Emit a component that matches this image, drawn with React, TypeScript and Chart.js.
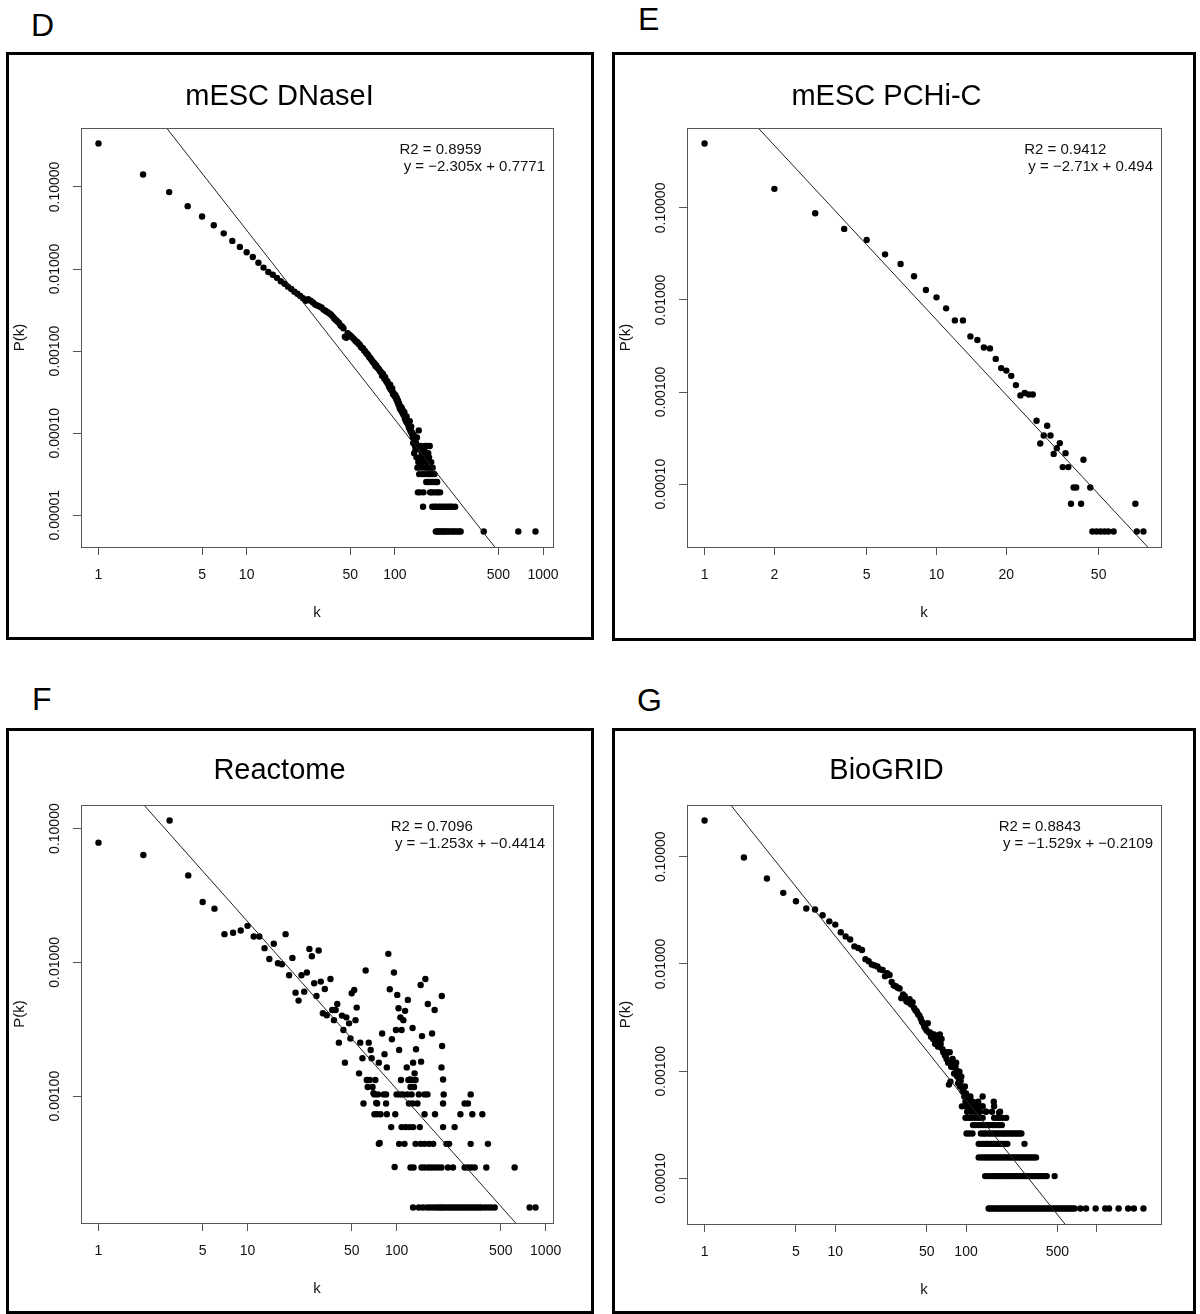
import React, { useEffect, useRef } from "react";
import { Chart, registerables } from "chart.js";

Chart.register(...registerables);

const FONT = '"Liberation Sans", Arial, Helvetica, sans-serif';

// ---------------- Panel D : mESC DNaseI ----------------
const D_K = [
  1, 2, 3, 4, 5, 6, 7, 8, 9, 10,
  11, 12, 13, 14, 15, 16, 17, 18, 19, 20,
  21, 22, 23, 24, 25, 26, 27, 28, 29, 30,
  31, 32, 33, 34, 35, 36, 37, 38, 39, 40,
  41, 42, 43, 44, 45, 46, 47, 48, 49, 50,
  51, 52, 53, 54, 55, 56, 57, 58, 59, 60,
  61, 62, 63, 64, 65, 66, 67, 68, 69, 70,
  71, 72, 73, 74, 75, 76, 77, 78, 79, 80,
  81, 82, 83, 84, 85, 86, 87, 88, 89, 90,
  91, 92, 93, 94, 95, 96, 97, 98, 99, 100,
  101, 102, 103, 104, 105, 106, 107, 108, 109, 110,
  111, 112, 113, 114, 115, 116, 117, 118, 119, 120,
  121, 122, 123, 124, 125, 126, 127, 128, 129, 130,
];
const D_P = [
  0.338, 0.142, 0.0865, 0.0583, 0.0436, 0.0341, 0.0272, 0.022, 0.0186, 0.016,
  0.014, 0.0119, 0.0104, 0.0092, 0.0085, 0.0078, 0.0071, 0.0066, 0.0061, 0.0057,
  0.0053, 0.005, 0.0047, 0.0044, 0.0041, 0.0043, 0.0041, 0.0039, 0.0037, 0.0036,
  0.0035, 0.0034, 0.0032, 0.0031, 0.003, 0.0029, 0.0028, 0.00265, 0.0025, 0.0024,
  0.0023, 0.0022, 0.00205, 0.002, 0.0019, 0.0015, 0.00145, 0.00165, 0.0016, 0.00155,
  0.0015, 0.00145, 0.0014, 0.00135, 0.0013, 0.00128, 0.00122, 0.0012, 0.00112, 0.0011,
  0.00108, 0.00102, 0.001, 0.00095, 0.00092, 0.0009, 0.00085, 0.00083, 0.0008, 0.00077,
  0.00074, 0.00072, 0.0007, 0.00066, 0.00067, 0.00063, 0.00062, 0.0006, 0.00058, 0.00056,
  0.00055, 0.0005, 0.00053, 0.0005, 0.00046, 0.00048, 0.00044, 0.00042, 0.00043, 0.0004,
  0.00038, 0.00036, 0.00039, 0.00034, 0.00033, 0.00035, 0.0003, 0.00031, 0.00029, 0.00028,
  0.00029, 0.00026, 0.00027, 0.00024, 0.00025, 0.00022, 0.00023, 0.0002, 0.00021, 0.00019,
  0.000205, 0.00018, 0.00019, 0.00017, 0.000165, 0.00018, 0.00015, 0.000155, 0.00014, 0.00016,
  0.000135, 0.00013, 0.00014, 0.00012, 0.000115, 0.00014, 0.00011, 0.000105, 0.00012, 0.0001,
];
// tail: rows of equal probability (1, 2, 3 ... nodes)
const D_ROW_P = [
  6.34e-6, 1.27e-5, 1.9e-5, 2.54e-5, 3.17e-5, 3.8e-5, 4.44e-5, 5.07e-5, 5.71e-5,
  6.34e-5, 6.97e-5, 7.61e-5, 8.24e-5, 8.88e-5, 9.51e-5, 1.01e-4, 1.08e-4,
];
const D_ROW_K = [
  [189, 194, 198, 203, 208, 214, 218, 225, 231, 239, 246, 253, 262, 270, 278, 398, 681, 890],
  [155, 179, 186, 191, 199, 205, 212, 220, 228, 236, 243, 255],
  [143, 148, 156, 173, 177, 183, 190, 196, 202],
  [163, 169, 175, 181, 188, 193],
  [146, 154, 159, 167, 171, 178, 185],
  [142, 151, 161, 166, 174, 180],
  [144, 153, 164, 176],
  [140, 149, 157, 170],
  [135, 152, 162, 168],
  [138, 147, 158],
  [137, 150, 160, 165, 172],
  [133, 139],
  [136],
  [132, 141],
  [134],
  [131],
  [145],
];
const D_X_TICKS = [1, 5, 10, 50, 100, 500, 1000];
const D_X_LABELS = ["1", "5", "10", "50", "100", "500", "1000"];
const D_Y_TICKS = [0.1, 0.01, 0.001, 0.0001, 0.00001];
const D_Y_LABELS = ["0.10000", "0.01000", "0.00100", "0.00010", "0.00001"];
const D_R2 = "0.8959";
const D_SLOPE = -2.305;
const D_INTERCEPT = 0.7771;

// ---------------- Panel E : mESC PCHi-C ----------------
const E_K = [
  1, 2, 3, 4, 5, 6, 7, 8, 9, 10,
  11, 12, 13, 14, 15, 16, 17, 18, 19, 20,
  21, 22, 23, 24, 25, 26, 27, 28, 29, 30,
  31, 32, 33, 34, 35, 36, 37, 38, 39, 40,
  42, 43, 46, 47, 49, 51, 53, 55, 58, 72, 73, 78,
];
const E_P = [
  0.5, 0.161, 0.0874, 0.0591, 0.0449, 0.0313, 0.0246, 0.0181, 0.01285, 0.01067,
  0.00811, 0.006, 0.006, 0.00402, 0.00367, 0.00305, 0.00298, 0.00229, 0.00182, 0.00171,
  0.0015, 0.00119, 0.00092, 0.000975, 0.00094, 0.00094, 0.000488, 0.000276, 0.000337, 0.00043,
  0.000337, 0.000213, 0.000246, 0.000279, 0.000153, 0.000217, 0.000153, 0.0000612, 0.0000918, 0.0000918,
  0.0000612, 0.000184, 0.0000918, 0.0000306, 0.0000306, 0.0000306, 0.0000306, 0.0000306, 0.0000306,
  0.0000612, 0.0000306, 0.0000306,
];
const E_ROW_P: number[] = [];
const E_ROW_K: number[][] = [];
const E_X_TICKS = [1, 2, 5, 10, 20, 50];
const E_X_LABELS = ["1", "2", "5", "10", "20", "50"];
const E_Y_TICKS = [0.1, 0.01, 0.001, 0.0001];
const E_Y_LABELS = ["0.10000", "0.01000", "0.00100", "0.00010"];
const E_R2 = "0.9412";
const E_SLOPE = -2.71;
const E_INTERCEPT = 0.494;

// ---------------- Panel F : Reactome ----------------
const F_K = [
  1, 2, 3, 4, 5, 6, 7, 8, 9, 10,
  11, 12, 13, 14, 15, 16, 17, 18, 19, 20,
  21, 22, 23, 24, 25, 26, 27, 28, 29, 30,
  31, 32, 33, 34, 36, 37, 38, 39, 40, 41,
  43, 44, 45, 46, 48, 49, 50, 52, 53, 54,
  56, 57, 59, 62, 65, 66, 67, 68, 70, 72,
  73, 76, 77, 80, 83, 86, 88, 90, 93, 96,
  97, 99, 101, 103, 104, 106, 108, 111, 114, 117,
  119, 123, 128, 129, 132, 135, 145, 146, 148, 156,
  162, 173, 180, 200, 201, 202, 205,
];
const F_P = [
  0.0785, 0.0635, 0.115, 0.0447, 0.0283, 0.0252, 0.01625, 0.01663, 0.0173, 0.01875,
  0.0156, 0.0156, 0.01277, 0.0106, 0.01377, 0.00986, 0.00969, 0.01626, 0.00801, 0.0108,
  0.00594, 0.00518, 0.00801, 0.00604, 0.0084, 0.0126, 0.0111, 0.00698, 0.00561, 0.01227,
  0.00718, 0.00416, 0.00632, 0.00402, 0.00752, 0.0044, 0.0037, 0.0044, 0.00489, 0.00251,
  0.004, 0.00312, 0.00178, 0.00388, 0.0035, 0.0027, 0.00587, 0.00622, 0.0037, 0.00459,
  0.00148, 0.00251, 0.00192, 0.00869, 0.00251, 0.00132, 0.00221, 0.00192, 0.00105, 0.00132,
  0.00089, 0.00178, 0.000447, 0.00294, 0.00206, 0.00164, 0.01158, 0.00629, 0.00266, 0.0084,
  0.000295, 0.00312, 0.00571, 0.00454, 0.00221, 0.00388, 0.00312, 0.0037, 0.00434, 0.00164,
  0.00524, 0.00133, 0.00323, 0.00178, 0.00148, 0.00224, 0.00678, 0.00181, 0.00281, 0.00752,
  0.00489, 0.00294, 0.0044, 0.00164, 0.00561, 0.00237, 0.00133,
];
const F_ROW_P = [1.47e-4, 2.93e-4, 4.4e-4, 5.87e-4, 7.33e-4, 8.8e-4, 1.03e-3, 1.17e-3, 1.32e-3];
const F_ROW_K = [
  [129, 141, 150, 160, 168, 177, 185, 193, 200, 207, 216, 225, 233, 242, 252, 262, 272, 282, 294, 306, 317, 330, 343, 357, 370, 390, 411, 432, 455, 781, 855],
  [124, 130, 147, 154, 163, 171, 180, 190, 200, 221, 239, 286, 301, 317, 334, 400, 619],
  [76, 104, 113, 134, 145, 154, 165, 176, 216, 225, 314, 410],
  [92, 108, 115, 122, 129, 143, 205, 245],
  [71, 74, 78, 86, 98, 154, 181, 268, 322, 376],
  [60, 74, 85, 121, 128, 138, 205, 286, 301],
  [71, 75, 82, 85, 100, 105, 110, 118, 126, 141, 154, 161, 207, 314],
  [64, 69, 124, 131],
  [63, 107, 120, 127, 134],
];
const F_X_TICKS = [1, 5, 10, 50, 100, 500, 1000];
const F_X_LABELS = ["1", "5", "10", "50", "100", "500", "1000"];
const F_Y_TICKS = [0.1, 0.01, 0.001];
const F_Y_LABELS = ["0.10000", "0.01000", "0.00100"];
const F_R2 = "0.7096";
const F_SLOPE = -1.253;
const F_INTERCEPT = -0.4414;

// ---------------- Panel G : BioGRID ----------------
const G_K = [
  1, 2, 3, 4, 5, 6, 7, 8, 9, 10,
  11, 12, 13, 14, 15, 16, 17, 18, 19, 20,
  21, 22, 23, 24, 25, 26, 27, 28, 29, 30,
  31, 32, 33, 34, 35, 36, 37, 38, 39, 40,
  41, 42, 43, 44, 45, 46, 47, 48, 49, 50,
  51, 52, 53, 54, 55, 56, 57, 58, 59, 60,
  61, 62, 63, 64, 65, 66, 67, 68, 69, 70,
  71, 72, 73, 74, 75, 76, 77, 78, 79, 80,
  81, 82, 83, 84, 85, 86, 87, 88, 89, 90,
  91, 92, 93, 94, 95, 96, 97, 98, 99, 100,
  102, 104, 106, 108, 110, 113, 116, 119, 124, 128, 134, 142, 163, 179,
];
const G_P = [
  0.218, 0.0985, 0.0627, 0.0461, 0.0385, 0.0329, 0.0322, 0.0285, 0.025, 0.0233,
  0.0198, 0.0181, 0.0169, 0.0146, 0.0141, 0.0135, 0.0111, 0.0106, 0.0099, 0.0097,
  0.0095, 0.0089, 0.0088, 0.0077, 0.0082, 0.0079, 0.0068, 0.0063, 0.0062, 0.006,
  0.0059, 0.0048, 0.0052, 0.005, 0.0045, 0.0044, 0.0047, 0.0042, 0.0044, 0.0039,
  0.0037, 0.0036, 0.0034, 0.0033, 0.0031, 0.0029, 0.0028, 0.0026, 0.0025, 0.0024,
  0.0028, 0.0023, 0.0023, 0.0021, 0.0022, 0.002, 0.0022, 0.0018, 0.0019, 0.0021,
  0.0017, 0.0017, 0.0022, 0.0018, 0.002, 0.0016, 0.0015, 0.0015, 0.0014, 0.0014,
  0.0013, 0.0015, 0.0012, 0.00075, 0.0015, 0.0008, 0.0011, 0.0012, 0.0013, 0.0011,
  0.00095, 0.00096, 0.0011, 0.0012, 0.0009, 0.001, 0.00077, 0.00085, 0.00099, 0.00072,
  0.00081, 0.00089, 0.00047, 0.00065, 0.00067, 0.00063, 0.00058, 0.00072, 0.00052, 0.00062,
  0.00056, 0.00052, 0.00047, 0.00058, 0.00042, 0.00052, 0.00045, 0.00048, 0.00052, 0.00042, 0.00058, 0.00042, 0.00052, 0.00041,
];
const G_ROW_P = [5.24e-5, 1.05e-4, 1.57e-4, 2.1e-4, 2.62e-4, 3.14e-4, 3.67e-4, 4.19e-4, 4.72e-4];
const G_ROW_K = [
  [149, 153, 159, 165, 172, 176, 183, 189, 196, 203, 210, 218, 226, 234, 242, 251, 260, 269, 279, 289, 299, 310, 321, 333, 345, 357, 370, 383, 397, 411, 426, 441, 457, 474, 491, 508, 526, 545, 565, 585, 606, 628, 651, 677, 749, 828, 980, 1161, 1242, 1469, 1738, 1923, 2275],
  [140, 147, 154, 160, 165, 171, 177, 184, 190, 197, 204, 211, 219, 227, 235, 243, 252, 261, 271, 281, 291, 301, 312, 323, 335, 347, 359, 372, 385, 399, 414, 476],
  [125, 131, 136, 142, 147, 153, 158, 164, 169, 176, 182, 188, 195, 202, 209, 216, 224, 232, 241, 249, 258, 267, 277, 287, 298, 308, 319, 331, 343],
  [125, 130, 136, 141, 145, 151, 156, 162, 167, 173, 180, 186, 193, 200, 207, 280],
  [101, 106, 112, 130, 136, 141, 148, 154, 160, 166, 172, 178, 185, 192, 199, 206, 214, 222, 230, 238, 247, 256, 265],
  [113, 118, 124, 129, 135, 141, 147, 153, 160, 166, 173, 180, 188],
  [99, 104, 109, 115, 121, 127, 134, 164, 173, 181, 191, 203],
  [102, 110, 118, 126, 142, 158, 182],
  [100, 107, 115, 124, 134, 164],
];
const G_X_TICKS = [1, 5, 10, 50, 100, 500, 1000];
const G_X_LABELS = ["1", "5", "10", "50", "100", "500", ""];
const G_Y_TICKS = [0.1, 0.01, 0.001, 0.0001];
const G_Y_LABELS = ["0.10000", "0.01000", "0.00100", "0.00010"];
const G_R2 = "0.8843";
const G_SLOPE = -1.529;
const G_INTERCEPT = -0.2109;

// ---------------- layout (page pixels) ----------------
type Panel = {
  letter: string;
  title: string;
  k: number[];
  p: number[];
  rowP: number[];
  rowK: number[][];
  xTicks: number[];
  xLabels: string[];
  yTicks: number[];
  yLabels: string[];
  r2: string;
  slope: number;
  intercept: number;
  box: { x: number; y: number; w: number; h: number };
  plot: { l: number; t: number; r: number; b: number };
  titleY: number;
  letterPos: { x: number; y: number };
};

const PANELS: Panel[] = [
  {
    letter: "D", title: "mESC DNaseI", k: D_K, p: D_P, rowP: D_ROW_P, rowK: D_ROW_K,
    xTicks: D_X_TICKS, xLabels: D_X_LABELS, yTicks: D_Y_TICKS, yLabels: D_Y_LABELS,
    r2: D_R2, slope: D_SLOPE, intercept: D_INTERCEPT,
    box: { x: 6, y: 52, w: 588, h: 588 }, plot: { l: 81, t: 128, r: 553, b: 547 },
    titleY: 97, letterPos: { x: 31, y: 9 },
  },
  {
    letter: "E", title: "mESC PCHi-C", k: E_K, p: E_P, rowP: E_ROW_P, rowK: E_ROW_K,
    xTicks: E_X_TICKS, xLabels: E_X_LABELS, yTicks: E_Y_TICKS, yLabels: E_Y_LABELS,
    r2: E_R2, slope: E_SLOPE, intercept: E_INTERCEPT,
    box: { x: 612, y: 52, w: 584, h: 589 }, plot: { l: 687, t: 128, r: 1161, b: 547 },
    titleY: 97, letterPos: { x: 638, y: 3 },
  },
  {
    letter: "F", title: "Reactome", k: F_K, p: F_P, rowP: F_ROW_P, rowK: F_ROW_K,
    xTicks: F_X_TICKS, xLabels: F_X_LABELS, yTicks: F_Y_TICKS, yLabels: F_Y_LABELS,
    r2: F_R2, slope: F_SLOPE, intercept: F_INTERCEPT,
    box: { x: 6, y: 728, w: 588, h: 586 }, plot: { l: 81, t: 805, r: 553, b: 1223 },
    titleY: 771, letterPos: { x: 32, y: 683 },
  },
  {
    letter: "G", title: "BioGRID", k: G_K, p: G_P, rowP: G_ROW_P, rowK: G_ROW_K,
    xTicks: G_X_TICKS, xLabels: G_X_LABELS, yTicks: G_Y_TICKS, yLabels: G_Y_LABELS,
    r2: G_R2, slope: G_SLOPE, intercept: G_INTERCEPT,
    box: { x: 612, y: 728, w: 584, h: 586 }, plot: { l: 687, t: 805, r: 1161, b: 1224 },
    titleY: 771, letterPos: { x: 637, y: 684 },
  },
];

const fmt = (v: number) => (v < 0 ? "\u2212" : "") + String(Math.abs(v));

// R-style axis range: data range in log space extended by 4% on each side
function rRange(vals: number[]): [number, number] {
  const logs = vals.map((v) => Math.log10(v));
  const lo = Math.min(...logs);
  const hi = Math.max(...logs);
  const ext = (hi - lo) * 0.04;
  return [Math.pow(10, lo - ext), Math.pow(10, hi + ext)];
}

function PanelChart({ panel }: { panel: Panel }) {
  const ref = useRef<HTMLCanvasElement>(null);

  useEffect(() => {
    if (!ref.current) return;
    const pts: { x: number; y: number }[] = panel.k.map((k, i) => ({ x: k, y: panel.p[i] }));
    panel.rowK.forEach((ks, r) => ks.forEach((k) => pts.push({ x: k, y: panel.rowP[r] })));

    const [xMin, xMax] = rRange(pts.map((q) => q.x));
    const [yMin, yMax] = rRange(pts.map((q) => q.y));
    const fitY = (x: number) => Math.pow(10, panel.intercept + panel.slope * Math.log10(x));
    const fitLine = [
      { x: xMin, y: fitY(xMin) },
      { x: xMax, y: fitY(xMax) },
    ];

    const { box, plot } = panel;
    const areaL = plot.l - box.x;
    const areaR = plot.r - box.x;
    const areaT = plot.t - box.y;
    const areaB = plot.b - box.y;

    const titleSize = 29;
    const titleLH = titleSize * 1.2;
    const titleTop = panel.titleY - box.y - titleLH / 2;
    const titleBottom = areaT - titleTop - titleLH;

    const tickLen = 8;
    const xLabelSize = 14;
    const xLabelPad = 28 - tickLen - (xLabelSize * 1.2) / 2;
    const axisTitleSize = 15;
    const axisTitleHalf = (axisTitleSize * 1.2) / 2;
    const kCenter = areaB + 66;
    const pkCenter = areaL - 61;

    const rPlugin = {
      id: "rStyle",
      afterDraw(chart: any) {
        const { ctx, chartArea: a, scales } = chart;
        ctx.save();
        // plot box
        ctx.strokeStyle = "#555";
        ctx.lineWidth = 1;
        ctx.strokeRect(
          Math.round(a.left) + 0.5,
          Math.round(a.top) + 0.5,
          Math.round(a.right - a.left),
          Math.round(a.bottom - a.top)
        );
        // rotated y tick labels
        ctx.fillStyle = "#111";
        ctx.font = `14px ${FONT}`;
        ctx.textAlign = "center";
        ctx.textBaseline = "middle";
        panel.yTicks.forEach((v, i) => {
          const y = scales.y.getPixelForValue(v);
          ctx.save();
          ctx.translate(a.left - 26, y);
          ctx.rotate(-Math.PI / 2);
          ctx.fillText(panel.yLabels[i], 0, 0);
          ctx.restore();
        });
        // fit legend (top right)
        ctx.font = `15px ${FONT}`;
        ctx.textAlign = "left";
        ctx.fillStyle = "#111";
        const l1 = `R2 = ${panel.r2}`;
        const l2 = ` y = ${fmt(panel.slope)}x + ${fmt(panel.intercept)}`;
        const w = Math.max(ctx.measureText(l1).width, ctx.measureText(l2).width);
        const x0 = a.right - 8 - w;
        ctx.fillText(l1, x0, a.top + 22);
        ctx.fillText(l2, x0, a.top + 39);
        ctx.restore();
      },
    };

    const chart = new Chart(ref.current, {
      type: "scatter",
      data: {
        datasets: [
          {
            type: "line",
            data: fitLine,
            borderColor: "#222",
            borderWidth: 1,
            pointRadius: 0,
            fill: false,
            tension: 0,
            order: 0,
          } as any,
          {
            type: "scatter",
            data: pts,
            backgroundColor: "#000",
            borderWidth: 0,
            pointRadius: 3.2,
            pointHoverRadius: 3.2,
            order: 1,
          } as any,
        ],
      },
      options: {
        animation: false,
        responsive: false,
        devicePixelRatio: 1,
        events: [],
        layout: { padding: { left: 0, top: 0, right: box.w - areaR, bottom: 0 } },
        plugins: {
          legend: { display: false },
          tooltip: { enabled: false },
          title: {
            display: true,
            text: panel.title,
            color: "#000",
            font: { family: FONT, size: titleSize, weight: "normal" },
            padding: { top: titleTop, bottom: titleBottom },
          },
        },
        scales: {
          x: {
            type: "logarithmic",
            position: "bottom",
            bounds: "data",
            min: xMin,
            max: xMax,
            afterBuildTicks: (s: any) => {
              s.ticks = panel.xTicks.map((v) => ({ value: v }));
            },
            afterFit: (s: any) => {
              s.height = box.h - areaB;
            },
            ticks: {
              autoSkip: false,
              maxRotation: 0,
              minRotation: 0,
              padding: xLabelPad,
              color: "#111",
              font: { family: FONT, size: xLabelSize },
              callback: (_v: any, i: number) => panel.xLabels[i],
            },
            grid: {
              display: true,
              drawOnChartArea: false,
              drawTicks: true,
              tickLength: tickLen,
              color: "#555",
              lineWidth: 1,
            },
            border: { display: false },
            title: {
              display: true,
              text: "k",
              color: "#111",
              font: { family: FONT, size: axisTitleSize },
              padding: { top: 0, bottom: box.h - kCenter - axisTitleHalf },
            },
          } as any,
          y: {
            type: "logarithmic",
            position: "left",
            bounds: "data",
            min: yMin,
            max: yMax,
            afterBuildTicks: (s: any) => {
              s.ticks = panel.yTicks.map((v) => ({ value: v }));
            },
            afterFit: (s: any) => {
              s.width = areaL;
            },
            ticks: { display: false },
            grid: {
              display: true,
              drawOnChartArea: false,
              drawTicks: true,
              tickLength: tickLen,
              color: "#555",
              lineWidth: 1,
            },
            border: { display: false },
            title: {
              display: true,
              text: "P(k)",
              color: "#111",
              font: { family: FONT, size: axisTitleSize },
              padding: { top: pkCenter - axisTitleHalf, bottom: 0 },
            },
          } as any,
        },
      },
      plugins: [rPlugin],
    });

    return () => chart.destroy();
  }, [panel]);

  const { box } = panel;
  return (
    <canvas
      ref={ref}
      width={box.w}
      height={box.h}
      style={{ position: "absolute", left: box.x, top: box.y, width: box.w, height: box.h }}
    />
  );
}

export default function App() {
  return (
    <div
      style={{
        position: "absolute",
        left: 0,
        top: 0,
        width: 1200,
        height: 1314,
        background: "#fff",
        overflow: "hidden",
      }}
    >
      {PANELS.map((panel) => (
        <React.Fragment key={panel.letter}>
          <PanelChart panel={panel} />
          <div
            style={{
              position: "absolute",
              left: panel.box.x,
              top: panel.box.y,
              width: panel.box.w,
              height: panel.box.h,
              border: "3px solid #000",
              boxSizing: "border-box",
              pointerEvents: "none",
            }}
          />
          <div
            style={{
              position: "absolute",
              left: panel.letterPos.x,
              top: panel.letterPos.y,
              fontFamily: FONT,
              fontSize: 32,
              lineHeight: "32px",
              color: "#000",
            }}
          >
            {panel.letter}
          </div>
        </React.Fragment>
      ))}
    </div>
  );
}
